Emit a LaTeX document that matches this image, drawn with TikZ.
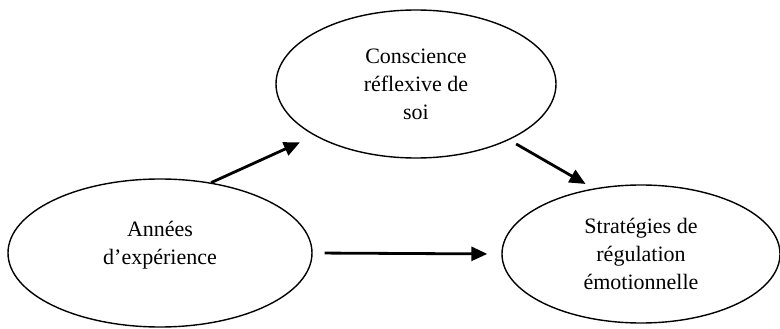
\documentclass[tikz,border=0pt]{standalone}
\usepackage{fontspec}
\setmainfont{Liberation Serif}
\usetikzlibrary{shapes.geometric,arrows.meta}
\tikzset{
  bulle/.style={draw, ellipse, line width=1.4pt, inner sep=0pt, align=center,
    font=\fontsize{22}{28}\selectfont},
  fleche/.style={line width=2.8pt, -{Triangle[length=16pt,width=14pt]}}
}
\begin{document}
\begin{tikzpicture}[x=1pt,y=-1pt]
\useasboundingbox (0,0) rectangle (780,329);
% les trois bulles
\node[bulle, minimum width=280pt, minimum height=148pt] (csc) at (416,84) {Conscience\\réflexive de\\soi};
\node[bulle, minimum width=304pt, minimum height=148pt] (annees) at (160,253) {Années\\d’expérience\\[-8pt]\mbox{}};
\node[bulle, minimum width=278pt, minimum height=138pt] (strat) at (641,254) {Stratégies de\\régulation\\émotionnelle};
% les liens
\draw[fleche, shorten >=16pt] (annees.54) -- (csc.207);
\draw[fleche, shorten <=8pt, shorten >=9pt] (csc.-31) -- (strat.126);
\draw[fleche, shorten <=12pt, shorten >=14pt] (annees.east) -- (strat.west);
\end{tikzpicture}
\end{document}
